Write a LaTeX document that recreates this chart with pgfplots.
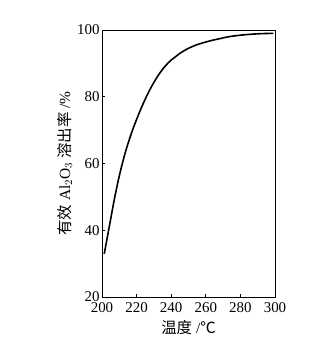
\documentclass[border=0pt]{standalone}
\usepackage{fontspec}
\setmainfont{Liberation Serif}
\newfontfamily\cjk{Noto Sans CJK SC}
\usepackage{pgfplots}
\pgfplotsset{compat=1.18}
\begin{document}
\begin{tikzpicture}[x=1bp,y=1bp]
\path[use as bounding box] (0,0) rectangle (323,345);
\begin{axis}[
  at={(102bp,48bp)}, anchor=south west,
  scale only axis, width=173bp, height=267bp,
  xmin=200, xmax=300, ymin=20, ymax=100,
  xtick={200,220,...,300}, ytick={20,40,...,100},
  tick align=inside, tick pos=left,
  major tick length=3bp,
  axis line style={line width=0.9bp},
  every tick/.style={line width=0.8bp, black},
  /pgf/number format/assume math mode=true,
  tick label style={font=\fontsize{15}{17}\selectfont},
  xticklabel style={yshift=-2bp},
  yticklabel style={xshift=1bp},
  xlabel={{\cjk 温度} /{\cjk ℃}},
  ylabel={{\cjk 有效} Al$_2$O$_3$ {\cjk 溶出率} /\%},
  label style={font=\fontsize{15.5}{17}\selectfont},
  xlabel style={yshift=-1bp},
  ylabel style={yshift=-2bp},
]
\addplot[black, line width=1.6bp, smooth, tension=0.7] coordinates {
 (201.3,32.9) (204,40.5) (208,51.5) (212,60.5) (216,67.5) (220,73.2)
 (225,79.3) (230,84.3) (235,88.2) (240,91) (245,93) (252,95)
 (260,96.4) (268,97.4) (276,98.2) (288,98.8) (299,99)
};
\end{axis}
\end{tikzpicture}
\end{document}
